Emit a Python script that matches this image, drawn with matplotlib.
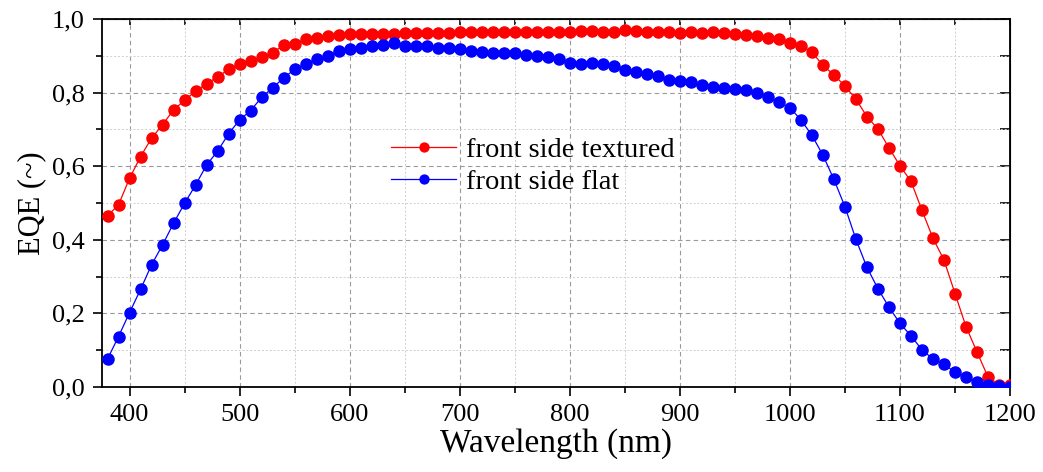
import numpy as np
import matplotlib
matplotlib.use("Agg")
import matplotlib.pyplot as plt
from matplotlib.ticker import MultipleLocator, FuncFormatter

plt.rcParams['font.family'] = ['Liberation Serif', 'DejaVu Serif']

wavelength = np.arange(380, 1201, 10)

eqe_textured = [
    0.465, 0.495, 0.567, 0.626, 0.676, 0.713, 0.753, 0.779, 0.804, 0.824,
    0.843, 0.863, 0.878, 0.886, 0.896, 0.909, 0.929, 0.933, 0.945, 0.948,
    0.954, 0.956, 0.958, 0.958, 0.959, 0.959, 0.960, 0.961, 0.962, 0.963,
    0.963, 0.963, 0.964, 0.964, 0.964, 0.965, 0.965, 0.966, 0.966, 0.965,
    0.965, 0.965, 0.966, 0.967, 0.968, 0.966, 0.965, 0.969, 0.967, 0.965,
    0.965, 0.965, 0.963, 0.964, 0.962, 0.964, 0.962, 0.959, 0.957, 0.954,
    0.948, 0.947, 0.934, 0.928, 0.910, 0.874, 0.848, 0.818, 0.782, 0.735,
    0.701, 0.650, 0.601, 0.559, 0.480, 0.404, 0.345, 0.254, 0.164, 0.095,
    0.027, 0.006, 0.005,
]

eqe_flat = [
    0.076, 0.137, 0.202, 0.265, 0.332, 0.386, 0.445, 0.499, 0.549, 0.603,
    0.641, 0.688, 0.726, 0.751, 0.787, 0.813, 0.840, 0.863, 0.878, 0.891,
    0.900, 0.914, 0.919, 0.922, 0.927, 0.929, 0.934, 0.927, 0.927, 0.927,
    0.920, 0.920, 0.918, 0.914, 0.911, 0.908, 0.908, 0.907, 0.902, 0.899,
    0.896, 0.890, 0.880, 0.878, 0.880, 0.877, 0.872, 0.861, 0.855, 0.851,
    0.845, 0.834, 0.832, 0.830, 0.821, 0.816, 0.813, 0.811, 0.807, 0.800,
    0.787, 0.774, 0.759, 0.726, 0.684, 0.630, 0.564, 0.490, 0.401, 0.325,
    0.267, 0.217, 0.173, 0.139, 0.101, 0.076, 0.062, 0.040, 0.026, 0.014,
    0.005, 0.002, 0.001,
]

labels = ["front side textured", "front side flat"]
colors = ["#ff0000", "#0000ff"]

fig = plt.figure(figsize=(10.43, 4.72), dpi=100)
ax = fig.add_axes([0.0978, 0.1801, 0.8706, 0.7796])

ax.plot(wavelength, eqe_textured, color=colors[0], lw=0.9, marker='o',
        ms=8.0, mec=colors[0], mfc=colors[0], label=labels[0], zorder=3)
ax.plot(wavelength, eqe_flat, color=colors[1], lw=0.9, marker='o',
        ms=8.0, mec=colors[1], mfc=colors[1], label=labels[1], zorder=3)

ax.set_xlim(375, 1200)
ax.set_ylim(0, 1.0)

ax.xaxis.set_major_locator(MultipleLocator(100))
ax.xaxis.set_minor_locator(MultipleLocator(50))
ax.yaxis.set_major_locator(MultipleLocator(0.2))
ax.yaxis.set_minor_locator(MultipleLocator(0.1))
ax.yaxis.set_major_formatter(FuncFormatter(lambda v, p: f"{v:.1f}".replace('.', ',')))

ax.grid(which='major', color='#9a9a9a', linestyle=(0, (4, 3)), linewidth=0.8)
ax.grid(which='minor', color='#cfcfcf', linestyle=(0, (2, 2)), linewidth=0.7)
ax.set_axisbelow(True)

for s in ax.spines.values():
    s.set_linewidth(1.3)

ax.tick_params(axis='both', which='major', direction='out', length=6.5,
               width=1.2, labelsize=19, pad=6)
ax.tick_params(axis='both', which='minor', direction='out', length=4,
               width=1.2)

# mirrored inward ticks on the top and right edges
top = ax.secondary_xaxis('top')
top.xaxis.set_major_locator(MultipleLocator(50))
top.tick_params(direction='in', length=4, width=1.2, labeltop=False)
top.set_xticklabels([])
right = ax.secondary_yaxis('right')
right.yaxis.set_major_locator(MultipleLocator(0.1))
right.tick_params(direction='in', length=7, width=1.2, labelright=False)
right.set_yticklabels([])

ax.set_xlabel("Wavelength (nm)", fontsize=24, labelpad=1)
ax.set_ylabel("EQE (~)", fontsize=22, labelpad=4)

ax.legend(loc='center left', bbox_to_anchor=(0.318, 0.600), frameon=False,
          fontsize=20.5, handlelength=2.3, handletextpad=0.35,
          labelspacing=0.22, borderpad=0, borderaxespad=0, markerscale=0.8)

fig.savefig("out.png", dpi=100)
